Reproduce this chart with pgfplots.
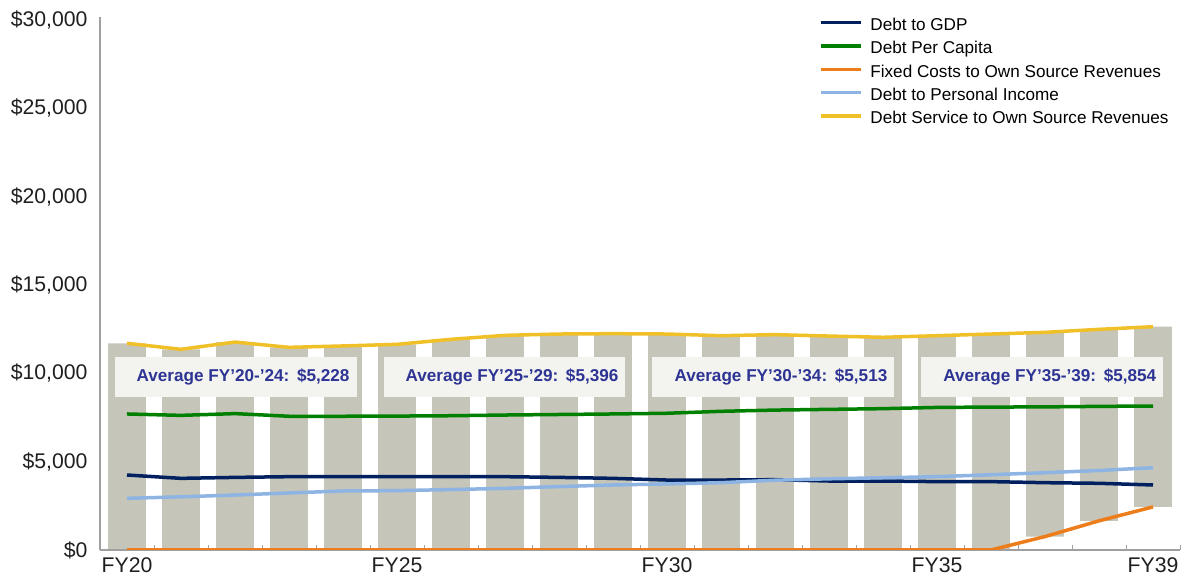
\documentclass[border=0pt]{standalone}
\usepackage{fontspec}
\setmainfont{Liberation Sans}
\usepackage{pgfplots}
\pgfplotsset{compat=1.18}
\definecolor{navyc}{RGB}{0,32,96}
\definecolor{greenc}{RGB}{0,128,0}
\definecolor{orangec}{RGB}{237,125,26}
\definecolor{lblue}{RGB}{141,180,226}
\definecolor{yellowc}{RGB}{240,192,40}
\definecolor{barc}{RGB}{198,197,185}
\definecolor{boxc}{RGB}{243,244,240}
\definecolor{txtc}{RGB}{46,52,148}
\definecolor{axc}{RGB}{160,160,160}
\begin{document}
\begin{tikzpicture}
\pgfplotsset{common/.style={scale only axis, width=1080bp, height=533bp,
  xmin=-0.5, xmax=19.5, ymin=0, ymax=30170, at={(100bp,33bp)}, anchor=south west}}
% bars (gray, from Fixed Costs value up to Debt Service value)
\begin{axis}[common, hide axis, ybar stacked, bar width=0.7]
\addplot[draw=none, fill=none] coordinates {(0,0) (1,0) (2,0) (3,0) (4,0) (5,0) (6,0) (7,0) (8,0) (9,0) (10,0) (11,0) (12,0) (13,0) (14,0) (15,0) (16,0) (17,760) (18,1650) (19,2440)};
\addplot[draw=none, fill=barc] coordinates {(0,11700) (1,11360) (2,11770) (3,11470) (4,11550) (5,11640) (6,11925) (7,12150) (8,12225) (9,12245) (10,12225) (11,12130) (12,12190) (13,12110) (14,12040) (15,12130) (16,12225) (17,11560) (18,10840) (19,10200)};
\end{axis}
\begin{axis}[common,
  axis x line*=bottom, axis y line*=left,
  axis line style={axc, line width=1.2bp},
  xtick={-0.5,0.5,...,19.5}, xticklabels={},
  tick align=inside, major tick length=5bp,
  xtick style={axc, line width=1bp},
  ytick={0,5000,...,30000}, ytick style={draw=none},
  scaled y ticks=false,
  yticklabel={\$\pgfmathprintnumber[assume math mode=true,1000 sep={,}]{\tick}},
  tick label style={font=\fontsize{21.3}{25}\selectfont, text=black!88},
  yticklabel style={xshift=-9bp},
  extra x ticks={0,5,10,15,19},
  extra x tick labels={FY20,FY25,FY30,FY35,FY39},
  extra x tick style={major tick length=0pt, xticklabel style={yshift=-4bp}},
  legend style={at={(0.6656,1.005)}, anchor=north west, draw=none, fill=none,
    font=\fontsize{17.2}{20}\selectfont, inner sep=0pt, row sep=0pt, column sep=5bp,
    nodes={inner sep=3.15bp, text height=13bp, text depth=4bp}},
  legend cell align=left,
  legend image code/.code={\draw[#1, line width=3.2bp] (0bp,3.4bp) -- (40bp,3.4bp);},
]
\fill[boxc] (axis cs:-0.23,8660) rectangle (axis cs:4.25,10925);
\fill[boxc] (axis cs:4.75,8660) rectangle (axis cs:9.23,10925);
\fill[boxc] (axis cs:9.73,8660) rectangle (axis cs:14.21,10925);
\fill[boxc] (axis cs:14.71,8660) rectangle (axis cs:19.19,10925);
\begin{scope}[every node/.style={font=\fontsize{17.2}{20}\selectfont\bfseries, text=txtc}]
\node at (axis cs:2.15,9790) {Average FY’20-’24:\hspace{0.45em}\$5,228};
\node at (axis cs:7.13,9790) {Average FY’25-’29:\hspace{0.45em}\$5,396};
\node at (axis cs:12.11,9790) {Average FY’30-’34:\hspace{0.45em}\$5,513};
\node at (axis cs:17.09,9790) {Average FY’35-’39:\hspace{0.45em}\$5,854};
\end{scope}
\addplot[navyc, line width=3.5bp] coordinates {(0,4245) (1,4055) (2,4110) (3,4150) (4,4150) (5,4150) (6,4150) (7,4150) (8,4110) (9,4055) (10,3960) (11,3960) (12,3980) (13,3905) (14,3905) (15,3870) (16,3870) (17,3810) (18,3775) (19,3680)};
\addlegendentry{Debt to GDP}
\addplot[greenc, line width=3.5bp] coordinates {(0,7700) (1,7620) (2,7720) (3,7570) (4,7570) (5,7580) (6,7600) (7,7640) (8,7670) (9,7700) (10,7740) (11,7850) (12,7920) (13,7960) (14,8000) (15,8070) (16,8090) (17,8100) (18,8130) (19,8150)};
\addlegendentry{Debt Per Capita}
\addplot[orangec, line width=3.5bp] coordinates {(0,0) (1,0) (2,0) (3,0) (4,0) (5,0) (6,0) (7,0) (8,0) (9,0) (10,0) (11,0) (12,0) (13,0) (14,0) (15,0) (16,0) (17,760) (18,1650) (19,2440)};
\addlegendentry{Fixed Costs to Own Source Revenues}
\addplot[lblue, line width=3.5bp] coordinates {(0,2925) (1,3010) (2,3110) (3,3230) (4,3340) (5,3360) (6,3420) (7,3490) (8,3590) (9,3680) (10,3740) (11,3810) (12,3950) (13,4030) (14,4090) (15,4150) (16,4260) (17,4375) (18,4500) (19,4660)};
\addlegendentry{Debt to Personal Income}
\addplot[yellowc, line width=3.5bp] coordinates {(0,11700) (1,11360) (2,11770) (3,11470) (4,11550) (5,11640) (6,11925) (7,12150) (8,12225) (9,12245) (10,12225) (11,12130) (12,12190) (13,12110) (14,12040) (15,12130) (16,12225) (17,12320) (18,12490) (19,12640)};
\addlegendentry{Debt Service to Own Source Revenues}
\end{axis}
\pgfresetboundingbox
\path (0,0) rectangle (1184bp,583bp);
\end{tikzpicture}
\end{document}
